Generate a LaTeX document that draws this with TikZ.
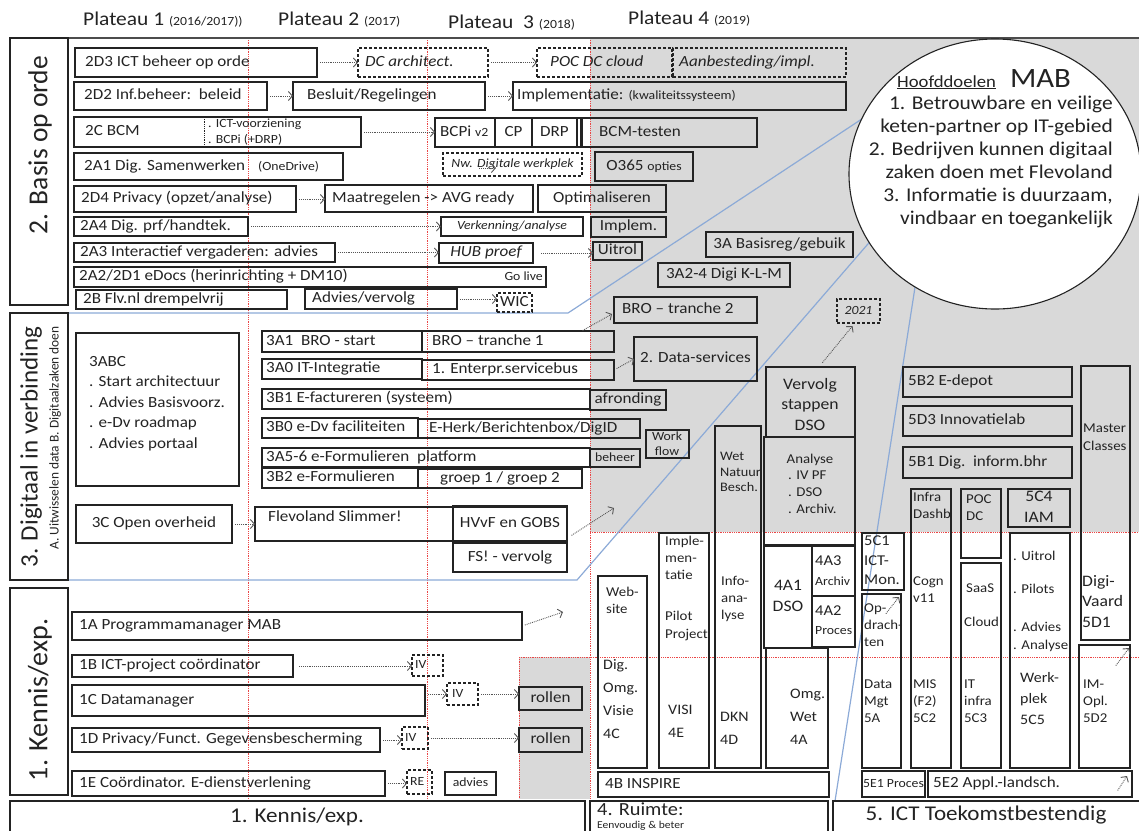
\documentclass[tikz,border=0pt]{standalone}
\usepackage{fontspec}
\setmainfont{Carlito}[FakeStretch=1.1]
\newfontfamily\labfont{Carlito}
\usetikzlibrary{arrows.meta,calc,shapes.geometric}
\definecolor{bgg}{RGB}{217,217,217}
\definecolor{ln}{RGB}{35,35,35}
\definecolor{rd}{RGB}{235,70,70}
\definecolor{bl}{RGB}{140,170,215}
\definecolor{ar}{RGB}{85,85,85}
\tikzset{
 box/.style={draw=ln,line width=1.1pt,inner sep=0pt,outer sep=0pt},
 dbox/.style={box,dash pattern=on 3pt off 2pt},
 txt/.style={inner sep=0pt,font=\fontsize{15.5}{18}\selectfont,text height=11pt,text depth=3.5pt,text=ln},
 txi/.style={txt,font=\fontsize{15.5}{18}\selectfont\itshape},
 txs/.style={inner sep=0pt,font=\fontsize{12.5}{15}\selectfont,text height=9pt,text depth=2.8pt,text=ln},
 txsi/.style={txs,font=\fontsize{12.5}{15}\selectfont\itshape},
 mlt/.style={inner sep=0pt,align=left,anchor=north west,text=ln,font=\fontsize{13.5}{17}\selectfont},
 big/.style={inner sep=0pt,text=ln,font=\fontsize{21}{24}\selectfont},
 hd/.style={inner sep=0pt,text=ln,font=\fontsize{19.5}{22}\selectfont},
 arr/.style={draw=ar,densely dotted,line width=0.9pt,-{Straight Barb[length=4pt,width=9pt,line width=0.9pt]},shorten <=3pt},
 redl/.style={draw=rd,densely dotted,line width=0.8pt},
 bluel/.style={draw=bl,line width=1.2pt},
}
\newcommand\BX[6]{\node[box,#6,minimum width={#4-#2},minimum height={#5-#3}] (#1) at ({(#2+#4)/2},{(#3+#5)/2}) {};}
\newcommand\TL[4]{\node[#3,anchor=west] (#1-t) at ([xshift=#2pt]#1.west) {#4};}
\newcommand\TC[3]{\node[#2] (#1-t) at (#1.center) {#3};}
\newcommand\sm[1]{{\fontsize{12.5}{14}\selectfont #1}}
\begin{document}
\begin{tikzpicture}[x=1pt,y=-1pt]
\useasboundingbox (0,0) rectangle (1139,830);
% backgrounds
\fill[bgg] (590,38) rectangle (1139,532);
\fill[bgg] (519,657) rectangle (590,799);
% red dotted grid
\draw[redl] (248,38) -- (248,799);
\draw[redl] (427,38) -- (427,799);
\draw[redl] (590,38) -- (590,799);
\draw[redl] (590,532) -- (1139,532);
\draw[redl] (519,657) -- (1139,657);
\draw[redl] (519,657) -- (519,799);
\draw[line width=1.6pt,draw=gray!60!black] (10,38) -- (1139,38);
% header
\node[hd,anchor=base west] (p1) at (83,25) {Plateau 1 \sm{(2016/2017))}};
\node[hd,anchor=base west] (p2) at (278,25) {Plateau 2 \sm{(2017)}};
\node[hd,anchor=base west] (p3) at (448,28) {Plateau~ 3 \sm{(2018)}};
\node[hd,anchor=base west] (p4) at (628,24) {Plateau 4 \sm{(2019)}};
% blue lines
\coordinate (b1a) at (68,313); \coordinate (b1b) at (568,313); \coordinate (b1c) at (880,107);
\coordinate (b2a) at (68,580); \coordinate (b2b) at (577,580); \coordinate (b2c) at (880,230);
\coordinate (b3a) at (835,801); \coordinate (b3c) at (918,268);
\draw[bluel] (b1a) -- (b1b) -- (b1c);
\draw[bluel] (b2a) -- (b2b) -- (b2c);
\draw[bluel] (b3a) -- (b3c);
% label boxes
\BX{lab2}{10}{38}{68}{305}{}
\BX{lab3}{10}{313}{68}{580}{}
\BX{lab1}{10}{588}{68}{795}{}
\node[inner sep=0pt,text=ln,font=\labfont\fontsize{27.5}{30}\selectfont,rotate=90] (lab2-t) at (40,145) {2. Basis op orde};
\node[inner sep=0pt,text=ln,font=\labfont\fontsize{25}{28}\selectfont,rotate=90] (lab3-t) at (31,447) {3. Digitaal in verbinding};
\node[inner sep=0pt,text=ln,font=\labfont\fontsize{13.4}{15}\selectfont,rotate=90] (lab3-s) at (55,438) {A. Uitwisselen data B. Digitaalzaken doen};
\node[inner sep=0pt,text=ln,font=\labfont\fontsize{28}{30}\selectfont,rotate=90] (lab1-t) at (40,700) {1. Kennis/exp.};
% ===== Section 2 =====
\BX{s2d3}{75}{48}{317}{77}{} \TL{s2d3}{10}{txt}{2D3 ICT beheer op orde}
\BX{dca}{358}{48}{488}{77}{dbox} \TL{dca}{7}{txi}{DC architect.}
\BX{pocdc}{537}{48}{672}{77}{dbox} \TL{pocdc}{13}{txi}{POC DC cloud}
\BX{aanb}{673}{48}{846}{77}{dbox} \TL{aanb}{6}{txi}{Aanbesteding/impl.}
\draw[arr] (s2d3.east) -- (dca.west);
\draw[arr] (dca.east) -- (pocdc.west);
\BX{s2d2}{74}{82}{267}{110}{} \TL{s2d2}{10}{txt}{2D2 Inf.beheer:\ \ beleid}
\BX{besl}{293}{82}{485}{110}{} \TL{besl}{14}{txt}{Besluit/Regelingen}
\BX{impl}{513}{82}{846}{110}{} \TL{impl}{4}{txt}{Implementatie: \sm{(kwaliteitssysteem)}}
\draw[arr] (s2d2.east) -- (besl.west);
\draw[arr] (besl.east) -- (impl.west);
\BX{s2c}{74}{117}{361}{147}{} \TL{s2c}{11}{txt}{2C BCM}
\draw[densely dotted,draw=ln,line width=0.8pt] (204,117) -- (204,147);
\node[mlt,font=\fontsize{12.5}{16}\selectfont,anchor=west] (s2c-s) at (208,132) {. ICT-voorziening\\. BCPi (+DRP)};
\BX{bcpi}{435}{118}{495}{147}{} \TL{bcpi}{5}{txt}{BCPi \sm{v2}}
\BX{cp}{495}{118}{532}{147}{} \TC{cp}{txt}{CP}
\BX{drp}{532}{118}{577}{147}{} \TC{drp}{txt}{DRP}
\BX{dbl}{577}{118}{581}{147}{}
\BX{bcmt}{582}{118}{757}{147}{} \TL{bcmt}{17}{txt}{BCM-testen}
\draw[arr] (s2c.east) -- (s2c.east -| bcpi.west);
\BX{s2a1}{74}{153}{343}{180}{} \TL{s2a1}{10}{txt}{2A1 Dig. Samenwerken}
\node[txs,anchor=west] (s2a1-s) at (258,167) {(OneDrive)};
\BX{nwdw}{443}{153}{582}{176}{dbox} \TC{nwdw}{txsi}{Nw. Digitale werkplek}
\coordinate (nwa) at (476,168); \coordinate (nwb) at (496,168);
\draw[arr] (nwa) -- (nwb);
\BX{o365}{595}{152}{693}{181}{} \TC{o365}{txt}{O365 \sm{opties}}
\BX{s2d4}{74}{186}{296}{212}{} \TL{s2d4}{7}{txt}{2D4 Privacy (opzet/analyse)}
\BX{maat}{325}{185}{533}{212}{} \TL{maat}{7}{txt}{Maatregelen -> AVG ready}
\BX{opt}{538}{185}{666}{212}{} \TC{opt}{txt}{Optimaliseren}
\draw[arr] (s2d4.east) -- (s2d4.east -| maat.west);
\BX{s2a4}{74}{217}{248}{236}{} \TL{s2a4}{6}{txt}{2A4 Dig. prf/handtek.}
\BX{verk}{441}{217}{583}{236}{} \TC{verk}{txsi}{Verkenning/analyse}
\BX{implem}{591}{217}{666}{237}{} \TC{implem}{txt}{Implem.}
\draw[arr] (s2a4.east) -- (s2a4.east -| verk.west);
\BX{s2a3}{74}{243}{335}{262}{} \TL{s2a3}{6}{txt}{2A3 Interactief vergaderen: advies}
\BX{hub}{439}{243}{533}{263}{} \TC{hub}{txi}{HUB proef}
\BX{uitrol}{593}{242}{642}{260}{} \TC{uitrol}{txt}{Uitrol}
\draw[arr] (s2a3.east) -- (s2a3.east -| hub.west);
\draw[arr,shorten <=8pt] (hub.east) -- (hub.east -| uitrol.west);
\BX{basisreg}{706}{232}{853}{257}{} \TC{basisreg}{txt}{3A Basisreg/gebuik}
\BX{digiklm}{658}{263}{790}{287}{} \TC{digiklm}{txt}{3A2-4 Digi K-L-M}
\BX{s2a2}{74}{267}{546}{287}{} \TL{s2a2}{5}{txt}{2A2/2D1 eDocs (herinrichting + DM10)}
\node[txs,anchor=east] (golive) at (543,277) {Go live};
\BX{s2b}{76}{290}{287}{309}{} \TL{s2b}{7}{txt}{2B Flv.nl drempelvrij}
\BX{advv}{305}{289}{457}{309}{} \TL{advv}{7}{txt}{Advies/vervolg}
\BX{wic}{497}{293}{532}{312}{dbox} \TC{wic}{txt}{WIC}
\draw[arr] (advv.east) -- (advv.east -| wic.west);
% ===== Section 3 =====
\BX{bro2}{614}{297}{757}{323}{} \TL{bro2}{8}{txt}{BRO -- tranche 2}
\BX{s3abc}{76}{333}{239}{486}{}
\node[mlt,font=\fontsize{15.5}{20.5}\selectfont] (s3abc-t) at (89,356) {3ABC\\. Start architectuur\\. Advies Basisvoorz.\\. e-Dv roadmap\\. Advies portaal};
\BX{s3a1}{262}{331}{422}{352}{} \TL{s3a1}{4}{txt}{3A1\ \ BRO - start}
\BX{bro1}{422}{331}{614}{352}{} \TL{bro1}{10}{txt}{BRO -- tranche 1}
\draw[arr] ($(bro1.north east)+(-34,1)$) -- ($(bro2.west)+(-2,4)$);
\BX{s3a0}{262}{359}{422}{379}{} \TL{s3a0}{4}{txt}{3A0 IT-Integratie}
\BX{esb}{422}{360}{614}{380}{} \TL{esb}{10}{txt}{1. Enterpr.servicebus}
\BX{datas}{634}{337}{757}{381}{} \TC{datas}{txt}{2. Data-services}
\draw[arr] (esb.east) -- (datas.west);
\BX{s3b1}{262}{389}{590}{409}{} \TL{s3b1}{4}{txt}{3B1 E-factureren (systeem)}
\BX{afr}{590}{390}{666}{410}{} \TC{afr}{txt}{afronding}
\BX{s3b0}{262}{418}{418}{438}{} \TL{s3b0}{4}{txt}{3B0 e-Dv faciliteiten}
\BX{eherk}{418}{419}{640}{438}{} \TL{eherk}{11}{txt}{E-Herk/Berichtenbox/DigID}
\BX{wf}{646}{430}{689}{458}{} \node[mlt,align=center,anchor=north,font=\fontsize{12.5}{15}\selectfont] (wf-t) at (667,432) {Work\\flow};
\BX{s3a56}{262}{448}{590}{467}{} \TL{s3a56}{4}{txt}{3A5-6 e-Formulieren\ \ platform}
\BX{beheer}{590}{449}{640}{467}{} \TC{beheer}{txs}{beheer}
\BX{s3b2}{262}{468}{418}{488}{} \TL{s3b2}{4}{txt}{3B2 e-Formulieren}
\BX{groep}{418}{469}{582}{488}{} \TC{groep}{txt}{groep 1 / groep 2}
\BX{s3c}{76}{505}{232}{543}{} \TC{s3c}{txt}{3C Open overheid}
\BX{fs}{255}{507}{567}{541}{} \node[txt,anchor=west] (fs-t) at (268,518) {Flevoland Slimmer!};
\BX{hvvf}{453}{506}{567}{541}{} \TC{hvvf}{txt}{HVvF en GOBS}
\BX{fsv}{453}{543}{567}{572}{} \TC{fsv}{txt}{FS! - vervolg}
\draw[arr] (s3c.east) -- (fs.west);
\coordinate (hve) at (614,508);
\draw[arr] ($(hvvf.south east)+(2,-4)$) -- (hve);
% ===== Section 4 =====
\BX{vervolg}{766}{367}{855}{437}{}
\node[mlt,align=center,anchor=north,font=\fontsize{16}{20.5}\selectfont] (vervolg-t) at (810,378) {Vervolg\\stappen\\DSO};
\BX{y2021}{837}{299}{880}{323}{dbox} \TC{y2021}{txsi}{2021}
\draw[arr] ($(vervolg.north)+(10,-2)$) -- ($(y2021.south)+(-6,3)$);
\BX{analyse}{764}{437}{855}{545}{}
\node[txt,font=\fontsize{13.5}{16}\selectfont] (analyse-t) at (810,460) {Analyse};
\node[mlt] (analyse-s) at (788,471) {. IV PF\\. DSO\\. Archiv.};
\BX{wnb}{715}{426}{761}{768}{}
\node[mlt,font=\fontsize{13}{15.5}\selectfont] (wnb-a) at (720,452) {Wet\\Natuur\\Besch.};
\node[mlt] (wnb-b) at (721,576) {Info-\\ana-\\lyse};
\node[mlt,font=\fontsize{14.5}{23}\selectfont] (wnb-c) at (720,712) {DKN\\4D};
\BX{impl4e}{659}{533}{709}{768}{}
\node[mlt] (impl4e-a) at (665,536) {Imple-\\men-\\tatie};
\node[mlt,font=\fontsize{13.5}{18}\selectfont] (impl4e-b) at (665,611) {Pilot\\Project};
\node[mlt,font=\fontsize{14.5}{23}\selectfont] (impl4e-c) at (668,705) {VISI\\4E};
\BX{web}{598}{576}{647}{768}{}
\node[mlt] (web-a) at (606,587) {Web-\\site};
\node[mlt,font=\fontsize{14.5}{23}\selectfont] (web-b) at (603,659) {Dig.\\Omg.\\Visie\\4C};
\BX{s4a1}{764}{546}{812}{648}{}
\node[mlt,align=center,anchor=north,font=\fontsize{16}{21}\selectfont] (s4a1-t) at (788,580) {4A1\\DSO};
\BX{s4a3}{812}{546}{855}{596}{}
\node[txt,anchor=west,font=\fontsize{15}{17}\selectfont] (s4a3-t) at (815,562) {4A3};
\node[txs,anchor=west] (s4a3-s) at (815,582) {Archiv};
\BX{s4a2}{812}{596}{855}{647}{}
\node[txt,anchor=west,font=\fontsize{15}{17}\selectfont] (s4a2-t) at (815,612) {4A2};
\node[txs,anchor=west] (s4a2-s) at (815,631) {Proces};
\BX{s4a}{766}{648}{828}{768}{}
\node[mlt,font=\fontsize{14.5}{23}\selectfont] (s4a-t) at (790,689) {Omg.\\Wet\\4A};
\BX{s4b}{598}{772}{829}{797}{} \TL{s4b}{7}{txt}{4B INSPIRE}
% ===== Section 5 =====
\BX{s5b2}{903}{367}{1072}{397}{} \TL{s5b2}{5}{txt}{5B2 E-depot}
\BX{s5d3}{903}{406}{1072}{436}{} \TL{s5d3}{5}{txt}{5D3 Innovatielab}
\BX{s5b1}{903}{447}{1072}{478}{} \TL{s5b1}{5}{txt}{5B1 Dig.\ \ inform.bhr}
\BX{master}{1081}{366}{1130}{640}{}
\node[mlt,font=\fontsize{13.5}{18}\selectfont] (master-a) at (1083,424) {Master\\Classes};
\node[mlt,font=\fontsize{16}{20.5}\selectfont] (master-b) at (1082,575) {Digi-\\Vaard\\5D1};
\BX{imopl}{1079}{645}{1130}{768}{}
\node[mlt] (imopl-t) at (1083,680) {IM-\\Opl.\\5D2};
\coordinate (a52s) at (1114,668); \coordinate (a52e) at (1129,648);
\draw[arr] (a52s) -- (a52e);
\BX{infra}{911}{489}{951}{768}{}
\node[mlt] (infra-a) at (913,492) {Infra\\Dashb};
\node[mlt] (infra-b) at (913,577) {Cogn\\v11};
\node[mlt] (infra-c) at (913,680) {MIS\\(F2)\\5C2};
\BX{pocdc2}{961}{489}{1001}{558}{}
\node[mlt] (pocdc2-t) at (966,495) {POC\\DC};
\BX{saas}{961}{563}{1001}{768}{}
\node[mlt] (saas-a) at (966,584) {SaaS};
\node[mlt] (saas-b) at (964,617) {Cloud};
\node[mlt] (saas-c) at (964,680) {IT\\infra\\5C3};
\BX{s5c4}{1008}{489}{1070}{527}{}
\node[mlt,align=center,anchor=north,font=\fontsize{16}{21}\selectfont] (s5c4-t) at (1039,491) {5C4\\IAM};
\BX{s5c5}{1010}{533}{1070}{768}{}
\node[mlt] (s5c5-a) at (1013,551) {. Uitrol};
\node[mlt] (s5c5-b) at (1013,584) {. Pilots};
\node[mlt,font=\fontsize{13.5}{18}\selectfont] (s5c5-c) at (1013,622) {. Advies\\. Analyse};
\node[mlt,font=\fontsize{14.5}{21}\selectfont] (s5c5-d) at (1020,672) {Werk-\\plek\\5C5};
\BX{s5c1}{862}{533}{904}{590}{}
\node[mlt,font=\fontsize{15}{19.5}\selectfont] (s5c1-t) at (864,536) {5C1\\ICT-\\Mon.};
\BX{s5a}{862}{594}{901}{768}{}
\node[mlt] (s5a-a) at (864,604) {Op-\\drach-\\ten};
\node[mlt] (s5a-b) at (864,680) {Data\\Mgt\\5A};
\coordinate (a5s) at (884,616); \coordinate (a5e) at (899,597);
\draw[arr] (a5s) -- (a5e);
\BX{s5e1}{862}{771}{925}{797}{} \TC{s5e1}{txt,font=\fontsize{12.5}{15}\selectfont}{5E1 Proces}
\BX{s5e2}{928}{771}{1132}{797}{} \TL{s5e2}{5}{txt}{5E2 Appl.-landsch.}
\coordinate (a5e2s) at (1116,793); \coordinate (a5e2e) at (1127,776);
\draw[arr] (a5e2s) -- (a5e2e);
% ===== Section 1 =====
\BX{s1a}{72}{612}{522}{640}{} \TL{s1a}{7}{txt}{1A Programmamanager MAB}
\coordinate (c1a) at (563,612);
\draw[arr] (s1a.east) -- (c1a);
\BX{s1b}{72}{655}{293}{677}{} \TL{s1b}{7}{txt}{1B ICT-project co\"ordinator}
\BX{iv1}{412}{655}{443}{676}{dbox} \TL{iv1}{3}{txs}{IV}
\draw[arr,shorten <=6pt] (s1b.east) -- (s1b.east -| iv1.west);
\BX{s1c}{72}{685}{425}{716}{} \TL{s1c}{7}{txt}{1C Datamanager}
\BX{iv2}{447}{683}{478}{705}{dbox} \TL{iv2}{5}{txs}{IV}
\BX{rol1}{519}{687}{582}{710}{} \TC{rol1}{txt}{rollen}
\draw[arr] (s1c.east |- iv2.west) -- (iv2.west);
\draw[arr] (iv2.east) -- (iv2.east -| rol1.west);
\BX{s1d}{72}{728}{380}{752}{} \TL{s1d}{7}{txt}{1D Privacy/Funct. Gegevensbescherming}
\BX{iv3}{402}{727}{428}{749}{dbox} \TL{iv3}{3}{txs}{IV}
\BX{rol2}{519}{728}{582}{752}{} \TC{rol2}{txt}{rollen}
\draw[arr] (s1d.east) -- (s1d.east -| iv3.west);
\draw[arr] (iv3.east) -- (iv3.east -| rol2.west);
\BX{s1e}{72}{771}{385}{796}{} \TL{s1e}{7}{txt}{1E Co\"ordinator. E-dienstverlening}
\BX{re}{407}{770}{432}{794}{dbox} \TL{re}{3}{txs}{RE}
\BX{adv}{445}{772}{496}{795}{} \TC{adv}{txs}{advies}
\draw[arr] (s1e.east) -- (s1e.east -| re.west);
% ===== bottom =====
\BX{bot1}{10}{801}{585}{840}{} \node[big] (bot1-t) at (297,817) {1. Kennis/exp.};
\BX{bot4}{590}{801}{828}{840}{}
\node[big,anchor=west,font=\fontsize{18.5}{22}\selectfont] (bot4-t) at (597,809) {4. Ruimte:};
\node[inner sep=0pt,anchor=west,text=ln,font=\fontsize{10.5}{12}\selectfont] (bot4-s) at (597,826) {Eenvoudig \& beter};
\BX{bot5}{833}{801}{1145}{840}{} \node[big] (bot5-t) at (986,815) {5. ICT Toekomstbestendig};
% ===== goal circle =====
\node[ellipse,draw=ln,fill=white,line width=1.1pt,minimum width=292pt,minimum height=270pt,inner sep=0pt] (goal) at (995,174) {};
\node[inner sep=0pt,anchor=base west,text=ln,font=\fontsize{17}{20}\selectfont] (goal-h) at (897,87) {\underline{Hoofddoelen}\hspace{14pt}{\fontsize{28}{30}\selectfont MAB}};
\node[inner sep=0pt,anchor=north east,align=right,text=ln,font=\fontsize{19.5}{23}\selectfont] (goal-t) at (1113,96) {1. Betrouwbare en veilige\\keten-partner op IT-gebied\\2. Bedrijven kunnen digitaal\\zaken doen met Flevoland\\3. Informatie is duurzaam,\\vindbaar en toegankelijk};
\end{tikzpicture}
\end{document}
